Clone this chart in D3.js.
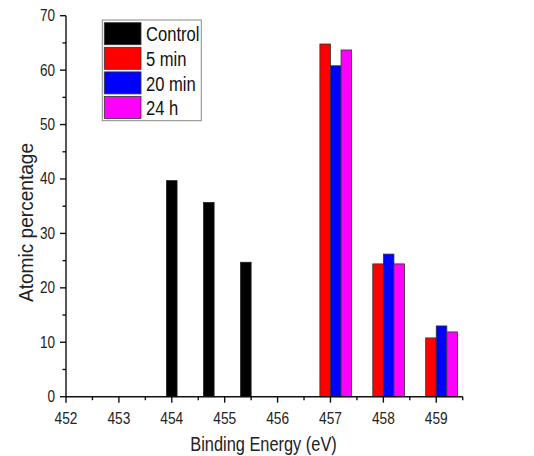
<!DOCTYPE html>
<html>
<head>
<meta charset="utf-8">
<script src="https://cdn.jsdelivr.net/npm/d3@7"></script>
<style>
  html, body { margin: 0; padding: 0; background: #ffffff; }
  svg { display: block; font-family: "Liberation Sans", Arial, sans-serif; }
</style>
</head>
<body>
<svg id="chart" width="534" height="456"></svg>
<script>
// ---- data ----
const controlEnergies = [454.0, 454.7, 455.4];
const controlValues = [39.7, 35.7, 24.7];
const treatedEnergies = [457, 458, 459];
const series5min = [64.8, 24.4, 10.8];
const series20min = [60.8, 26.2, 13.0];
const series24h = [63.7, 24.4, 11.9];
const legendLabels = ["Control", "5 min", "20 min", "24 h"];
const xTicks = [452, 453, 454, 455, 456, 457, 458, 459];
const yTicks = [0, 10, 20, 30, 40, 50, 60, 70];

const colors = ["#000000", "#ff0000", "#0000ff", "#ff00ff"];
const barW = 0.2;

const svg = d3.select("#chart");
const x = d3.scaleLinear().domain([452, 459.5]).range([66, 462.7]);
const y = d3.scaleLinear().domain([0, 70]).range([396.7, 15.7]);

// bars: control
svg.append("g").selectAll("rect")
  .data(controlEnergies.map((e, i) => ({e, v: controlValues[i]})))
  .join("rect")
  .attr("x", d => x(d.e - barW / 2))
  .attr("width", d => x(d.e + barW / 2) - x(d.e - barW / 2))
  .attr("y", d => y(d.v))
  .attr("height", d => y(0) - y(d.v))
  .attr("fill", colors[0])
  .attr("stroke", "#222").attr("stroke-width", 0.8);

// bars: treated series
const treated = [series5min, series20min, series24h];
treated.forEach((s, si) => {
  const off = -barW + si * barW;
  svg.append("g").selectAll("rect")
    .data(treatedEnergies.map((e, i) => ({e, v: s[i]})))
    .join("rect")
    .attr("x", d => x(d.e + off))
    .attr("width", d => x(d.e + off + barW) - x(d.e + off))
    .attr("y", d => y(d.v))
    .attr("height", d => y(0) - y(d.v))
    .attr("fill", colors[si + 1])
    .attr("stroke", "#333").attr("stroke-width", 0.8);
});

// axes
const xMinor = d3.range(452.5, 459.6, 1);
const yMinor = d3.range(5, 70, 10);
const axG = svg.append("g").attr("stroke", "#111").attr("stroke-width", 1.4);
axG.append("line").attr("x1", x(452)).attr("x2", x(459.5)).attr("y1", y(0)).attr("y2", y(0));
axG.append("line").attr("x1", x(452)).attr("x2", x(452)).attr("y1", y(0)).attr("y2", y(70));
axG.selectAll(".xt").data(xTicks).join("line")
  .attr("x1", d => x(d)).attr("x2", d => x(d)).attr("y1", y(0)).attr("y2", y(0) + 6);
axG.selectAll(".xm").data(xMinor).join("line")
  .attr("x1", d => x(d)).attr("x2", d => x(d)).attr("y1", y(0)).attr("y2", y(0) + 3.5);
axG.selectAll(".yt").data(yTicks).join("line")
  .attr("x1", x(452) - 6).attr("x2", x(452)).attr("y1", d => y(d)).attr("y2", d => y(d));
axG.selectAll(".ym").data(yMinor).join("line")
  .attr("x1", x(452) - 3.5).attr("x2", x(452)).attr("y1", d => y(d)).attr("y2", d => y(d));

// tick labels
svg.append("g").selectAll("text").data(xTicks).join("text")
  .attr("transform", d => `translate(${x(d)},424) scale(0.84,1)`)
  .attr("text-anchor", "middle").attr("font-size", 16.3).attr("fill", "#222")
  .text(d => d);
svg.append("g").selectAll("text").data(yTicks).join("text")
  .attr("transform", d => `translate(${x(452) - 11},${y(d) + 5.5}) scale(0.83,1)`)
  .attr("text-anchor", "end").attr("font-size", 16.3).attr("fill", "#222")
  .text(d => d);

// axis titles
svg.append("text")
  .attr("transform", `translate(263.5,451) scale(0.78,1)`)
  .attr("text-anchor", "middle").attr("font-size", 21).attr("fill", "#222")
  .text("Binding Energy (eV)");
svg.append("text")
  .attr("transform", `translate(33,222.5) rotate(-90) scale(0.91,1)`)
  .attr("text-anchor", "middle").attr("font-size", 21).attr("fill", "#222")
  .text("Atomic percentage");

// legend
const lg = svg.append("g");
lg.append("rect").attr("x", 102.3).attr("y", 20).attr("width", 99).attr("height", 100.7)
  .attr("fill", "#fff").attr("stroke", "#888").attr("stroke-width", 1);
legendLabels.forEach((lab, i) => {
  const yy = 22.7 + i * 24.6;
  lg.append("rect").attr("x", 104.3).attr("y", yy).attr("width", 36.7).attr("height", 22)
    .attr("fill", colors[i]).attr("stroke", "#333").attr("stroke-width", 0.8);
  lg.append("text")
    .attr("transform", `translate(146,${yy + 18.6}) scale(0.85,1)`)
    .attr("font-size", 19.5).attr("fill", "#111").text(lab);
});
</script>
</body>
</html>
